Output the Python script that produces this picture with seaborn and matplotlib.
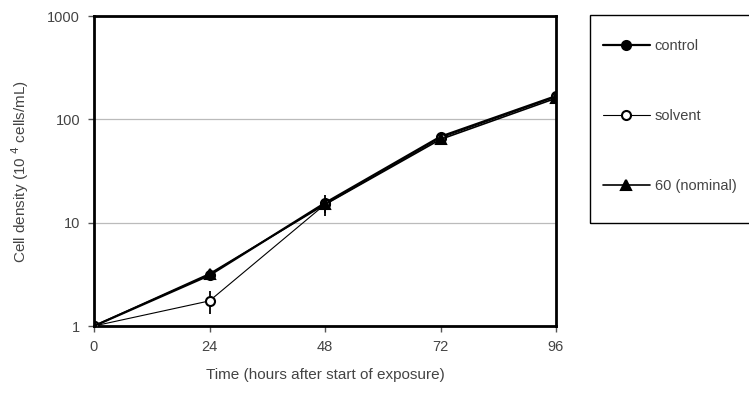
import numpy as np
import pandas as pd
import matplotlib
matplotlib.use("Agg")
import matplotlib.pyplot as plt
from matplotlib.patches import Rectangle
import seaborn as sns

hours = [0, 24, 48, 72, 96]
control = [1.0, 3.1, 15.5, 68, 168]
solvent = [1.0, 1.75, 15.0, 66, 165]
nominal60 = [1.0, 3.2, 15.0, 64, 160]
control_err = [0.0, 0.25, 1.5, 5, 10]
solvent_err = [0.0, 0.45, 3.5, 4, 10]
nominal60_err = [0.0, 0.2, 2.5, 4, 10]
series_names = ["control", "solvent", "60 (nominal)"]

sns.set_theme(style="white")
plt.rcParams['font.family'] = ['Liberation Sans', 'DejaVu Sans']

df = pd.DataFrame({
    "hours": hours * 3,
    "density": control + solvent + nominal60,
    "series": [series_names[0]] * 5 + [series_names[1]] * 5 + [series_names[2]] * 5,
})

fig = plt.figure(figsize=(7.49, 4.03), dpi=100)
ax = fig.add_axes([94/749, 77/403, 462/749, 310/403])

styles = {
    "control": dict(marker="o", mfc="black", lw=1.6),
    "solvent": dict(marker="o", mfc="white", lw=0.8),
    "60 (nominal)": dict(marker="^", mfc="black", lw=1.2),
}
errs = {"control": control_err, "solvent": solvent_err, "60 (nominal)": nominal60_err}

for name in series_names:
    sub = df[df["series"] == name]
    st = styles[name]
    sns.lineplot(data=sub, x="hours", y="density", ax=ax, color="black",
                 linewidth=st["lw"], marker=st["marker"], markersize=6.5,
                 markerfacecolor=st["mfc"], markeredgecolor="black",
                 markeredgewidth=1.5, label=name, zorder=3)
    ax.errorbar(sub["hours"], sub["density"], yerr=errs[name], fmt="none",
                ecolor="black", elinewidth=1.3, capsize=0, zorder=2)

ax.set_yscale("log")
ax.set_ylim(1, 1000)
ax.set_xlim(0, 96)
ax.set_xticks(hours)
ax.set_yticks([1, 10, 100, 1000])
ax.set_yticklabels(["1", "10", "100", "1000"])
ax.minorticks_off()
ax.grid(axis="y", which="major", color="#bbbbbb", linewidth=0.9)
ax.set_axisbelow(True)
for sp in ax.spines.values():
    sp.set_color("black")
    sp.set_linewidth(2)
ax.tick_params(axis="both", direction="out", length=4, width=1, color="#555555",
               labelsize=10.5, labelcolor="#444444", pad=6, left=True, bottom=True)
ax.set_xlabel("Time (hours after start of exposure)", fontsize=11, color="#444444", labelpad=10)
ax.set_ylabel("Cell density (10 $^{4}$ cells/mL)", fontsize=11, color="#444444", labelpad=12)

# legend frame drawn separately (extends past right edge like the reference)
fig.patches.append(Rectangle((590/749, (403-223)/403), 0.3, 208/403,
                             transform=fig.transFigure, fill=False,
                             edgecolor="black", linewidth=1))
leg = ax.legend(loc="upper left", bbox_to_anchor=(603/749, (403-39)/403), bbox_transform=fig.transFigure,
                frameon=False, fontsize=10.5,
                labelspacing=3.85, handlelength=3.2, borderpad=0, handletextpad=0.35,
                borderaxespad=0)
for t in leg.get_texts():
    t.set_color("#444444")

fig.savefig("out.png", dpi=100)
